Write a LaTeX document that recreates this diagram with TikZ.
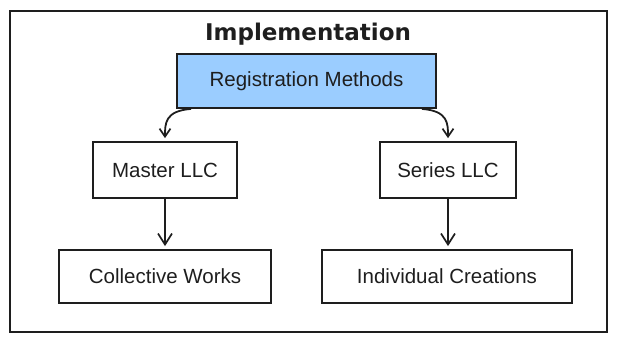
\documentclass[tikz,border=0pt]{standalone}
\usepackage{fontspec}
\setmainfont{Liberation Sans}
\newfontfamily\titlefont{DejaVu Sans}
\usetikzlibrary{arrows.meta}
\definecolor{regblue}{RGB}{155,205,255}
\definecolor{ink}{RGB}{30,30,30}
\begin{document}
\begin{tikzpicture}[x=1pt,y=-1pt,
  box/.style={draw=ink,line width=1.8pt,rectangle,inner sep=0pt,font=\fontsize{20.5}{23}\selectfont,text=ink},
  conn/.style={draw=ink,line width=1.8pt,-{Straight Barb[length=11pt,width=14pt,line width=1.7pt]},shorten >=3pt},
  curv/.style={draw=ink,line width=1.8pt,-{Straight Barb[length=8pt,width=11pt,line width=1.7pt]},shorten >=3pt}]
\useasboundingbox (0,0) rectangle (617,341);
\node[draw=ink,line width=1.8pt,minimum width=597pt,minimum height=321pt,inner sep=0pt] (frame) at (308.5,171.5) {};
\node[font=\titlefont\bfseries\fontsize{23}{25}\selectfont,text=ink] (title) at (308,34) {Implementation};
\node[box,fill=regblue,minimum width=259pt,minimum height=54pt] (reg) at (306.5,81) {Registration Methods};
\node[box,minimum width=144pt,minimum height=56pt] (master) at (165,170) {Master LLC};
\node[box,minimum width=136pt,minimum height=56pt] (series) at (448,170) {Series LLC};
\node[box,minimum width=212pt,minimum height=53pt] (coll) at (165,276.5) {Collective Works};
\node[box,minimum width=250pt,minimum height=53pt] (indiv) at (447,276.5) {Individual Creations};
\draw[curv] ([xshift=15pt]reg.south west) .. controls +(-26,2) and +(0,-18) .. (master.north);
\draw[curv] ([xshift=-15pt]reg.south east) .. controls +(26,2) and +(0,-18) .. (series.north);
\draw[conn] (master.south) -- (coll.north);
\draw[conn] (series.south) -- (series.south |- indiv.north);
\end{tikzpicture}
\end{document}
